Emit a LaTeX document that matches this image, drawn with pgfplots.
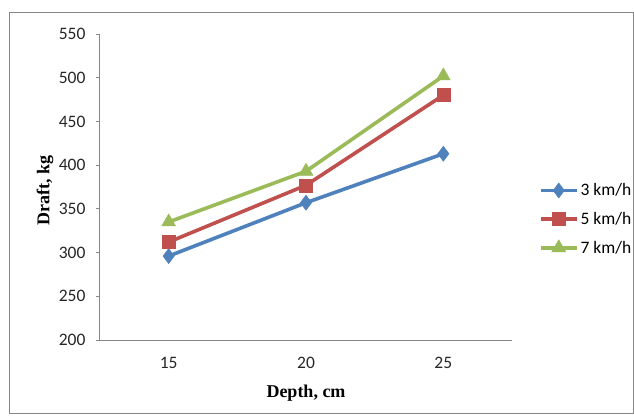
\documentclass[border=0pt]{standalone}
\usepackage{pgfplots}
\pgfplotsset{compat=1.18}
\usepackage{fontspec}
\setmainfont{Carlito}
\newfontfamily\timesfont{Liberation Serif}
\definecolor{sblue}{HTML}{4F81BD}
\definecolor{sred}{HTML}{C0504D}
\definecolor{sgreen}{HTML}{9BBB59}
\definecolor{axgray}{HTML}{868686}
\begin{document}
\begin{tikzpicture}[x=1pt,y=1pt]
\useasboundingbox (0,0) rectangle (634,416);
\draw[axgray,line width=1pt] (9.5,2.5) rectangle (633.5,403);
\begin{axis}[
  at={(100pt,76pt)}, anchor=south west,
  scale only axis, width=412pt, height=306pt,
  xmin=-0.5, xmax=2.5, ymin=200, ymax=550,
  axis x line*=bottom, axis y line*=left,
  axis line style={axgray, line width=1pt},
  xtick={0,1,2}, xticklabels={15,20,25},
  ytick={200,250,...,550},
  x tick style={draw=none},
  y tick style={axgray, line width=1pt},
  tick align=outside, major tick length=4pt,
  /pgf/number format/assume math mode=true,
  ticklabel style={font=\fontsize{17.5}{17.5}\selectfont, text=black!85},
  yticklabel style={xshift=-7pt},
  xticklabel style={yshift=-10pt},
  xlabel={\timesfont\bfseries Depth, cm},
  ylabel={\timesfont\bfseries Draft, kg},
  label style={font=\fontsize{18}{18}\selectfont},
  xlabel style={at={(axis description cs:0.5,-0.173)}, anchor=center},
  ylabel style={at={(axis description cs:-0.1335,0.49)}, anchor=center, rotate=0},
  legend style={draw=none, at={(1.065,0.395)}, anchor=west, fill=none,
    font=\fontsize{17.5}{17.5}\selectfont, row sep=11pt, inner xsep=0pt,
    /tikz/every even column/.append style={column sep=0pt}},
  legend cell align=left,
  legend image code/.code={\draw[mark repeat=2,mark phase=2] plot coordinates {(0pt,0pt)(18pt,0pt)(36pt,0pt)};},
  every axis plot/.append style={line width=3.6pt},
  clip=false,
]
\addplot[sblue, mark=diamond*, mark size=7.5pt, mark options={line width=0.5pt}] coordinates {(0,296) (1,357) (2,413)};
\addlegendentry{3 km/h}
\addplot[sred, mark=square*, mark size=6.5pt, mark options={line width=0.5pt}] coordinates {(0,312) (1,377) (2,480)};
\addlegendentry{5 km/h}
\addplot[sgreen, mark=triangle*, mark size=8pt, mark options={line width=0.5pt}] coordinates {(0,335) (1,393) (2,502)};
\addlegendentry{7 km/h}
\end{axis}
\end{tikzpicture}
\end{document}
